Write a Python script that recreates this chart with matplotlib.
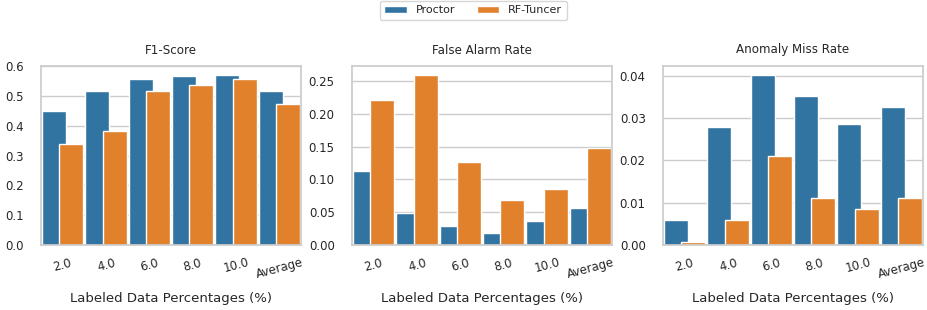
import numpy as np
import matplotlib
matplotlib.use("Agg")
import matplotlib.pyplot as plt
from matplotlib.ticker import MultipleLocator
import seaborn as sns

categories = ["2.0", "4.0", "6.0", "8.0", "10.0", "Average"]
methods = ["Proctor", "RF-Tuncer"]

f1_proctor = [0.449, 0.517, 0.556, 0.566, 0.572, 0.516]
f1_tuncer = [0.340, 0.382, 0.517, 0.536, 0.557, 0.474]

far_proctor = [0.113, 0.049, 0.029, 0.018, 0.036, 0.056]
far_tuncer = [0.221, 0.260, 0.126, 0.068, 0.086, 0.148]

amr_proctor = [0.0059, 0.0278, 0.0403, 0.0353, 0.0285, 0.0327]
amr_tuncer = [0.0008, 0.0059, 0.0210, 0.0110, 0.0084, 0.0110]

# title, blue values, orange values, y tick step
panels = [("F1-Score", f1_proctor, f1_tuncer, 0.1),
          ("False Alarm Rate", far_proctor, far_tuncer, 0.05),
          ("Anomaly Miss Rate", amr_proctor, amr_tuncer, 0.01)]

sns.set_theme(style="whitegrid")
plt.rcParams['font.family'] = ['DejaVu Sans']
colors = ["#3274a1", "#e1812c"]

W, H = 928, 310
fig = plt.figure(figsize=(W / 100, H / 100), dpi=100)

lefts = [41, 352, 663]
ax_w, top, bottom = 260, 66, 245

handles = []
x = np.arange(len(categories))
for left, (title, blue, orange, step) in zip(lefts, panels):
    ax = fig.add_axes([left / W, 1 - bottom / H, ax_w / W, (bottom - top) / H])
    b1 = ax.bar(x - 0.2, blue, width=0.55, color=colors[0], edgecolor="white", linewidth=1)
    b2 = ax.bar(x + 0.2, orange, width=0.55, color=colors[1], edgecolor="white", linewidth=1)
    handles = [b1, b2]
    ax.set_xlim(-0.5, len(categories) - 0.5)
    ax.yaxis.set_major_locator(MultipleLocator(step))
    ax.set_xticks(x)
    ax.set_xticklabels(categories, rotation=15)
    ax.xaxis.grid(False)
    ax.set_title(title, fontsize=8.6, pad=9)
    ax.set_xlabel("Labeled Data Percentages (%)", fontsize=9.5, labelpad=8)
    ax.tick_params(axis="both", labelsize=8.5)
    ax.tick_params(axis="y", pad=6.5)
    ax.tick_params(axis="x", pad=2)
    for s in ax.spines.values():
        s.set_color("#cccccc")

fig.legend(handles, methods, loc="upper center", ncol=2, fontsize=8,
           bbox_to_anchor=(0.51, 1.015), frameon=True, handlelength=2,
           columnspacing=2)

fig.savefig("out.png", dpi=100)
